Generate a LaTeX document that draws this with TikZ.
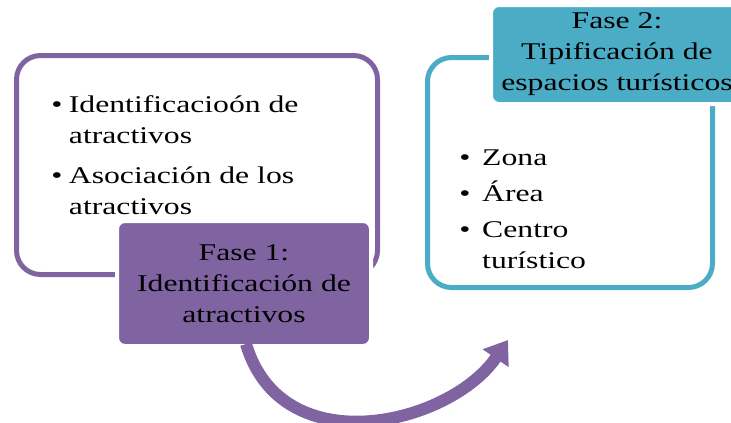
\documentclass[tikz,border=0pt]{standalone}
\usepackage{fontspec}
\setmainfont{Liberation Serif}
\usetikzlibrary{arrows.meta}

\definecolor{faseviolet}{HTML}{8064A2}
\definecolor{faseblue}{HTML}{4BACC6}

\begin{document}
\begin{tikzpicture}[x=1pt, y=-1pt, line join=round]
\newcommand{\listfont}{\rmfamily\fontsize{24pt}{31pt}\selectfont}
\newcommand{\widen}{1.32}

\tikzset{ framebox/.style={draw, line width=5pt, rounded corners=24pt,
    fill=white, inner sep=0pt},
  listtext/.style={anchor=base west, inner sep=0pt, font=\listfont,
    xscale=\widen},
  titlebox/.style={draw=white, line width=4pt, rounded corners=8pt,
    inner sep=0pt, align=center, font=\listfont, xscale=\widen},
  bentarrow/.style = {-{Triangle[width=30pt, length=22pt]}, line width=12pt,
    draw=faseviolet}
}

\clip (0,0) rectangle (731,423);
\useasboundingbox (0,0) rectangle (731,423);

% phase 1
\node[framebox, draw=faseviolet, minimum width=361pt, minimum height=219pt]
  (frameA) at (197,165) {};
\node[listtext] (listA) at (51,112)
  {\begin{tabular}[t]{@{}l@{\hspace{5pt}}l@{}}
   \textbullet & Identificacioón de\\
               & atractivos\\[9pt]
   \textbullet & Asociación de los\\
               & atractivos
   \end{tabular}};
\node[titlebox, fill=faseviolet, minimum width=254pt/\widen, minimum height=125pt]
  (faseA) at (244,283.5) {Fase 1:\\Identificación de\\atractivos};

% phase 2
\node[framebox, draw=faseblue, minimum width=285pt, minimum height=230pt]
  (frameB) at (570,172.5) {};
\node[listtext] (listB) at (459,165)
  {\begin{tabular}[t]{@{}l@{\hspace{9pt}}l@{}}
   \textbullet & Zona\\[5pt]
   \textbullet & Área\\[5pt]
   \textbullet & Centro\\
               & turístico
   \end{tabular}};
\node[titlebox, fill=faseblue, minimum width=252pt/\widen, minimum height=99pt]
  (faseB) at (617,54.5) {Fase 2:\\Tipificación de\\espacios turísticos};

% link between phases
\coordinate (arcend) at (508,340);
\draw[bentarrow] ([xshift=2pt, yshift=4pt]faseA.south) .. controls (282,465) and (450,425) .. (arcend);

\end{tikzpicture}
\end{document}
